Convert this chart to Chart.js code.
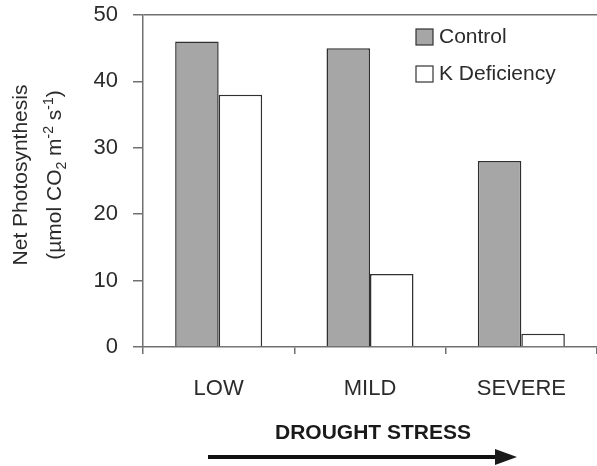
<!DOCTYPE html>
<html>
<head>
<meta charset="utf-8">
<script src="https://cdn.jsdelivr.net/npm/chart.js@4.4.1/dist/chart.umd.min.js"></script>
<style>
  html, body { margin: 0; padding: 0; background: #fff; }
  #wrap { width: 597px; height: 466px; }
</style>
</head>
<body>
<div id="wrap"><canvas id="c" width="597" height="466"></canvas></div>
<script>
// Drought stress levels and net photosynthesis per treatment
const categories = ['LOW', 'MILD', 'SEVERE'];
const controlValues = [46, 45, 28];
const kDeficiencyValues = [38, 11, 2];
const seriesNames = ['Control', 'K Deficiency'];
const yTicks = [0, 10, 20, 30, 40, 50];

const FONT = '"Liberation Sans", Arial, sans-serif';
const TEXT = '#2b2b2b';
const AXIS = '#707070';

// Draws the two-line y-axis title (with sub/superscripts), the legend box and the drought arrow
const decorations = {
  id: 'decorations',
  afterDraw(chart) {
    const ctx = chart.ctx;

    // y-axis title, rotated
    ctx.save();
    ctx.fillStyle = TEXT;
    ctx.textBaseline = 'middle';
    const cy = 175;
    ctx.translate(21, cy);
    ctx.rotate(-Math.PI / 2);
    ctx.font = '21px ' + FONT;
    ctx.textAlign = 'center';
    ctx.fillText('Net Photosynthesis', 0, 0);
    ctx.restore();

    ctx.save();
    ctx.fillStyle = TEXT;
    ctx.translate(54, cy);
    ctx.rotate(-Math.PI / 2);
    ctx.textBaseline = 'alphabetic';
    ctx.textAlign = 'left';
    const parts = [
      { t: '(\u00b5mol CO', s: 0 },
      { t: '2', s: 1 },
      { t: ' m', s: 0 },
      { t: '-2', s: -1 },
      { t: ' s', s: 0 },
      { t: '-1', s: -1 },
      { t: ')', s: 0 }
    ];
    let total = 0;
    parts.forEach(p => {
      ctx.font = (p.s ? '14px ' : '21px ') + FONT;
      p.w = ctx.measureText(p.t).width;
      total += p.w;
    });
    let x = -total / 2;
    parts.forEach(p => {
      ctx.font = (p.s ? '14px ' : '21px ') + FONT;
      ctx.fillText(p.t, x, p.s === 0 ? 7 : (p.s === 1 ? 12 : -1));
      x += p.w;
    });
    ctx.restore();

    // legend
    ctx.save();
    chart.data.datasets.forEach((d, i) => {
      const y = 29 + i * 37;
      ctx.fillStyle = d.backgroundColor;
      ctx.fillRect(416, y, 17, 16);
      ctx.strokeStyle = '#333';
      ctx.lineWidth = 1.2;
      ctx.strokeRect(416, y, 17, 16);
      ctx.fillStyle = TEXT;
      ctx.font = '21px ' + FONT;
      ctx.textBaseline = 'middle';
      ctx.textAlign = 'left';
      ctx.fillText(d.label, 439, y + 8);
    });
    ctx.restore();

    // drought stress caption and arrow
    ctx.save();
    ctx.fillStyle = '#1a1a1a';
    ctx.font = 'bold 21px ' + FONT;
    ctx.textAlign = 'center';
    ctx.textBaseline = 'middle';
    ctx.fillText('DROUGHT STRESS', 373, 433);
    ctx.strokeStyle = '#111';
    ctx.lineWidth = 4;
    ctx.beginPath();
    ctx.moveTo(208, 457);
    ctx.lineTo(500, 457);
    ctx.stroke();
    ctx.beginPath();
    ctx.moveTo(517, 457);
    ctx.lineTo(495, 449);
    ctx.lineTo(495, 465);
    ctx.closePath();
    ctx.fill();
    ctx.restore();
  }
};

new Chart(document.getElementById('c'), {
  type: 'bar',
  data: {
    labels: categories,
    datasets: [
      {
        label: seriesNames[0],
        data: controlValues,
        backgroundColor: '#a6a6a6',
        borderColor: '#303030',
        borderWidth: 1.5,
        borderSkipped: 'bottom'
      },
      {
        label: seriesNames[1],
        data: kDeficiencyValues,
        backgroundColor: '#ffffff',
        borderColor: '#303030',
        borderWidth: 1.5,
        borderSkipped: 'bottom'
      }
    ]
  },
  options: {
    responsive: false,
    animation: false,
    layout: { padding: { left: 0, right: 0, top: 15, bottom: 0 } },
    plugins: { legend: { display: false }, tooltip: { enabled: false } },
    datasets: { bar: { barPercentage: 1, categoryPercentage: 0.575 } },
    scales: {
      x: {
        afterFit(scale) {
          scale.height = 119;
          scale.paddingLeft = 0;
          scale.paddingRight = 0;
        },
        grid: {
          offset: true,
          drawOnChartArea: false,
          tickLength: 7,
          color: AXIS,
          lineWidth: 1.5
        },
        border: { color: AXIS, width: 1.5 },
        ticks: {
          color: TEXT,
          font: { family: FONT, size: 22 },
          padding: 22
        }
      },
      y: {
        min: 0,
        max: 50,
        afterFit(scale) {
          scale.width = 143;
          scale.paddingTop = 0;
          scale.paddingBottom = 0;
        },
        afterBuildTicks(scale) { scale.ticks = yTicks.map(v => ({ value: v })); },
        grid: {
          tickLength: 10,
          color: c => (c.tick && c.tick.value === 50 ? AXIS : 'rgba(0,0,0,0)'),
          tickColor: AXIS,
          lineWidth: 1.5
        },
        border: { color: AXIS, width: 1.5 },
        ticks: {
          color: TEXT,
          font: { family: FONT, size: 22 },
          padding: 15
        }
      }
    }
  },
  plugins: [decorations]
});
</script>
</body>
</html>
